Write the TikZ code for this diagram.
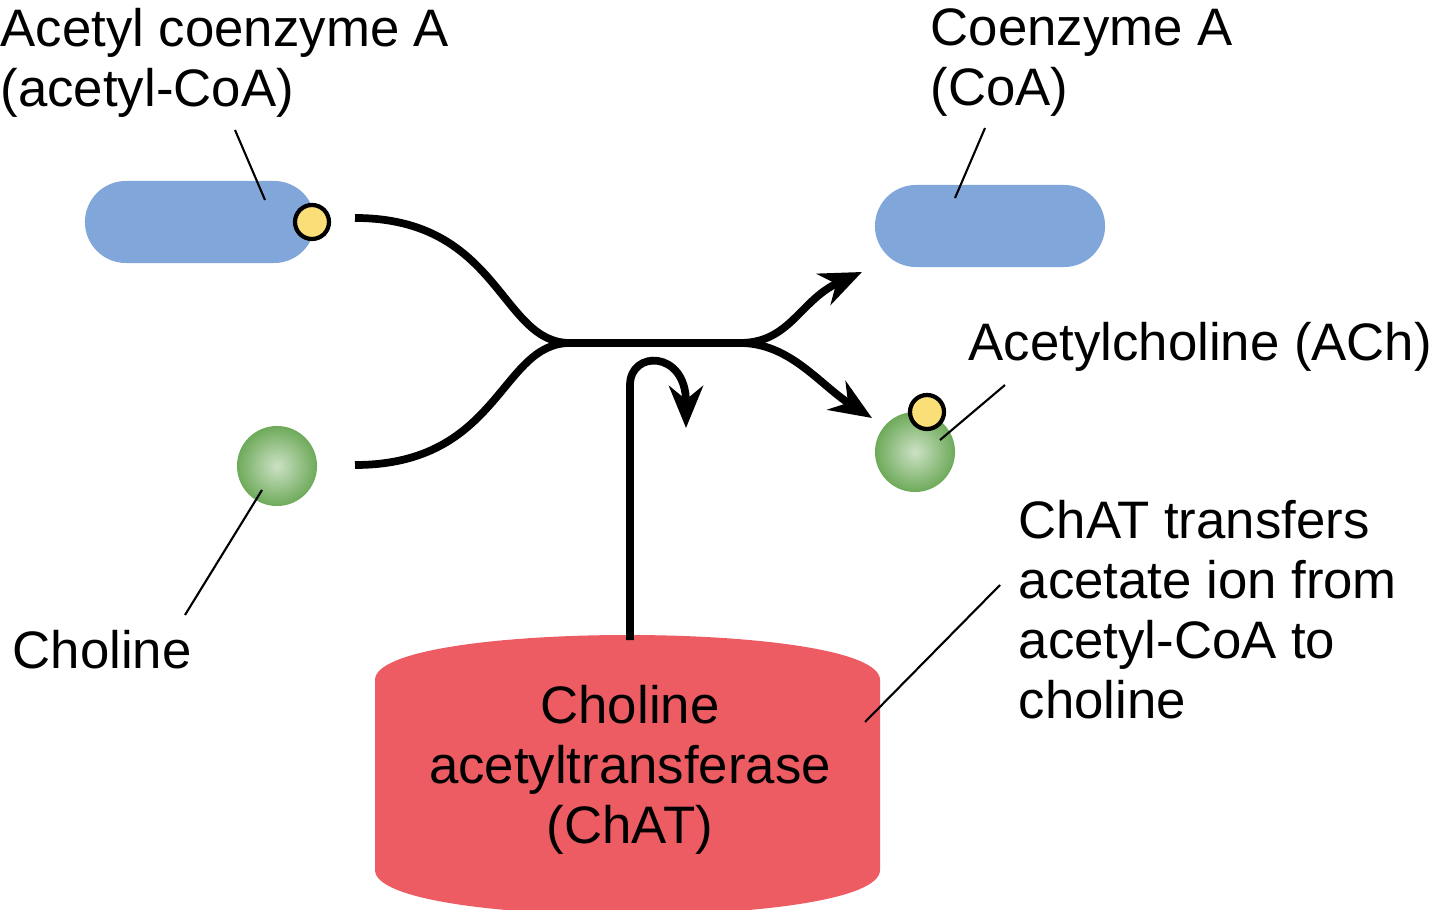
\documentclass[tikz,border=0pt]{standalone}
\usepackage{fontspec}
\setmainfont{Liberation Sans}
\usetikzlibrary{positioning,arrows.meta,shapes.geometric}
\definecolor{molblue}{RGB}{128,166,218}
\definecolor{molyellow}{RGB}{250,222,120}
\definecolor{molgreen}{RGB}{110,170,90}
\definecolor{enzred}{RGB}{236,92,98}
\tikzset{
  lbl/.style={font=\fontsize{15}{17}\selectfont, align=left, inner sep=0pt},
  mol/.style={fill=molblue, rounded corners=0.41cm, minimum width=2.3cm, minimum height=0.82cm, inner sep=0pt},
  dot/.style={circle, fill=molyellow, draw=black, line width=1.2pt, minimum size=0.34cm, inner sep=0pt},
  ball/.style={circle, inner sep=0pt, minimum size=0.8cm, inner color=molgreen!35, outer color=molgreen},
  pointer/.style={line width=0.6pt},
  flow/.style={line width=2.2pt, -{Stealth[length=0.42cm,width=0.34cm]}}
}
\begin{document}
\begin{tikzpicture}[x=0.01cm,y=-0.01cm]
    \useasboundingbox (0,0) rectangle (1440,910);
    %molecules
    \node[mol] (acoa) at (200,222) {};
    \node[dot] (acet) at (312,222) {};
    \node[mol] (coa) at (990,226) {};
    \node[ball] (chol) at (277,466) {};
    \node[ball] (ach) at (915,452) {};
    \node[dot] (achdot) at (927,412) {};
    %enzyme
    \fill[enzred] (375,680) .. controls (375,620) and (880,620) .. (880,680)
      -- (880,870) .. controls (880,930) and (375,930) .. (375,870) -- cycle;
    \node[lbl, align=center] (chat) at (630,770) {Choline\\acetyltransferase\\(ChAT)};
    %labels
    \node[lbl, anchor=north west] (acoalbl) at (0,8) {Acetyl coenzyme A\\(acetyl-CoA)};
    \node[lbl, anchor=north west] (coalbl) at (930,8) {Coenzyme A\\(CoA)};
    \node[lbl, anchor=west] (chollbl) at (12,650) {Choline};
    \node[lbl, anchor=west] (achlbl) at (968,347) {Acetylcholine (ACh)};
    \node[lbl, anchor=north west] (note) at (1018,500) {ChAT transfers\\acetate ion from\\acetyl-CoA to\\choline};
    %pointers
    \coordinate (p1) at (235,130); \coordinate (q1) at (265,200);
    \coordinate (p2) at (985,128); \coordinate (q2) at (955,198);
    \coordinate (p3) at (185,615); \coordinate (q3) at (262,490);
    \coordinate (p4) at (1005,385); \coordinate (q4) at (940,440);
    \coordinate (p5) at (1000,585); \coordinate (q5) at (865,722);
    \draw[pointer] (p1) -- (q1);
    \draw[pointer] (p2) -- (q2);
    \draw[pointer] (p3) -- (q3);
    \draw[pointer] (p4) -- (q4);
    \draw[pointer] (p5) -- (q5);
    %reaction
    \coordinate (m) at (570,343);
    \coordinate (s1) at (355,218);
    \coordinate (s2) at (355,465);
    \coordinate (top) at (630,640);
    \coordinate (e1) at (862,272);
    \coordinate (e2) at (872,418);
    \coordinate (e3) at (686,428);
    \draw[line width=2.2pt] (s1) .. controls (500,218) and (500,343) .. (m);
    \draw[line width=2.2pt] (s2) .. controls (500,465) and (500,343) .. (m);
    \draw[flow] (m) -- (740,343) .. controls (790,343) and (800,300) .. (e1);
    \draw[flow] (740,343) .. controls (790,343) and (820,385) .. (e2);
    \draw[flow] (top) -- (630,385) .. controls (630,350) and (686,350) .. (e3);
\end{tikzpicture}
\end{document}
